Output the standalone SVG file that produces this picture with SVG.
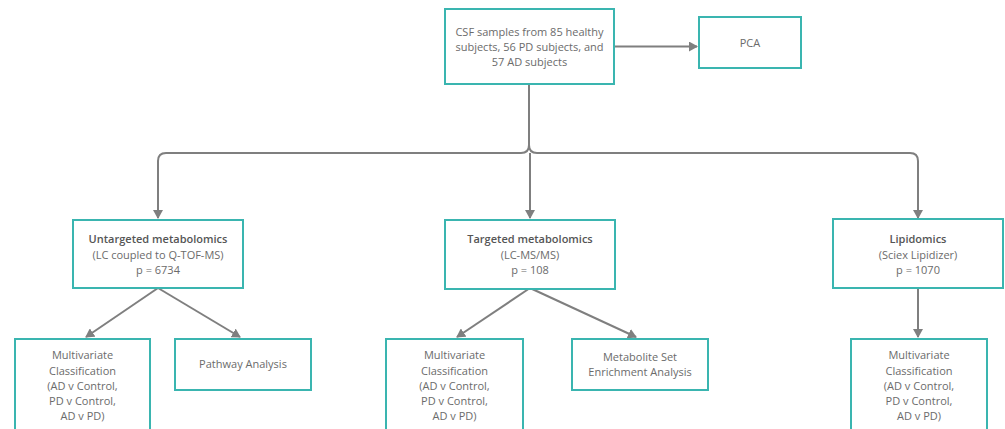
<svg xmlns="http://www.w3.org/2000/svg" width="1005" height="429" viewBox="0 0 1005 429">
<style>
.box{fill:#fff;stroke:#3ab5b0;stroke-width:2}
.t{font-family:"Open Sans",sans-serif;font-size:11px;fill:#6b6b6b;text-anchor:middle}
.b{font-weight:600;fill:#555}
.c{fill:none;stroke:#7f7f7f;stroke-width:2}
</style>
<defs>
<marker id="ah" markerWidth="10" markerHeight="10" refX="8" refY="5" orient="auto" markerUnits="userSpaceOnUse">
<path d="M0,0 L9,5 L0,10 Z" fill="#7f7f7f"/>
</marker>
</defs>
<g id="connectors">
<path class="c" d="M614,46.5 L697,46.5" marker-end="url(#ah)"/>
<path class="c" d="M529,84 L529,145 Q529,153 521,153 L166,153 Q158,153 158,161 L158,218" marker-end="url(#ah)"/>
<path class="c" d="M529,145 Q529,153 537,153 L910,153 Q918,153 918,161 L918,218" marker-end="url(#ah)"/>
<path class="c" d="M530,153 L530,218" marker-end="url(#ah)"/>
<path class="c" d="M158,288 L86,337" marker-end="url(#ah)"/>
<path class="c" d="M158,288 L240,337" marker-end="url(#ah)"/>
<path class="c" d="M530,288 L457,337" marker-end="url(#ah)"/>
<path class="c" d="M530,288 L636,337" marker-end="url(#ah)"/>
<path class="c" d="M918,288 L918,337" marker-end="url(#ah)"/>
</g>
<g id="csf">
<rect class="box" x="445" y="9" width="169" height="75"/>
<text class="t" x="529.5" y="36">CSF samples from 85 healthy</text>
<text class="t" x="529.5" y="51">subjects, 56 PD subjects, and</text>
<text class="t" x="529.5" y="66">57 AD subjects</text>
</g>
<g id="pca">
<rect class="box" x="699" y="17" width="102" height="51"/>
<text class="t" x="750" y="47">PCA</text>
</g>
<g id="untargeted">
<rect class="box" x="73" y="220" width="170" height="68"/>
<text class="t b" x="158" y="243">Untargeted metabolomics</text>
<text class="t" x="158" y="259">(LC coupled to Q-TOF-MS)</text>
<text class="t" x="158" y="274">p = 6734</text>
</g>
<g id="targeted">
<rect class="box" x="445" y="220" width="170" height="69"/>
<text class="t b" x="530" y="243">Targeted metabolomics</text>
<text class="t" x="530" y="259">(LC-MS/MS)</text>
<text class="t" x="530" y="274">p = 108</text>
</g>
<g id="lipidomics">
<rect class="box" x="833" y="219" width="170" height="69"/>
<text class="t b" x="918" y="243">Lipidomics</text>
<text class="t" x="918" y="259">(Sciex Lipidizer)</text>
<text class="t" x="918" y="274">p = 1070</text>
</g>
<g id="mv1">
<rect class="box" x="15" y="339" width="135" height="100"/>
<text class="t" x="82.5" y="359">Multivariate</text>
<text class="t" x="82.5" y="375">Classification</text>
<text class="t" x="82.5" y="390">(AD v Control,</text>
<text class="t" x="82.5" y="405">PD v Control,</text>
<text class="t" x="82.5" y="420">AD v PD)</text>
</g>
<g id="pathway">
<rect class="box" x="175" y="339" width="136" height="51"/>
<text class="t" x="243" y="368">Pathway Analysis</text>
</g>
<g id="mv2">
<rect class="box" x="386" y="339" width="137" height="100"/>
<text class="t" x="454.5" y="359">Multivariate</text>
<text class="t" x="454.5" y="375">Classification</text>
<text class="t" x="454.5" y="390">(AD v Control,</text>
<text class="t" x="454.5" y="405">PD v Control,</text>
<text class="t" x="454.5" y="420">AD v PD)</text>
</g>
<g id="msea">
<rect class="box" x="572" y="339" width="136" height="51"/>
<text class="t" x="640" y="361">Metabolite Set</text>
<text class="t" x="640" y="376">Enrichment Analysis</text>
</g>
<g id="mv3">
<rect class="box" x="851" y="339" width="136" height="100"/>
<text class="t" x="919" y="359">Multivariate</text>
<text class="t" x="919" y="375">Classification</text>
<text class="t" x="919" y="390">(AD v Control,</text>
<text class="t" x="919" y="405">PD v Control,</text>
<text class="t" x="919" y="420">AD v PD)</text>
</g>
</svg>
